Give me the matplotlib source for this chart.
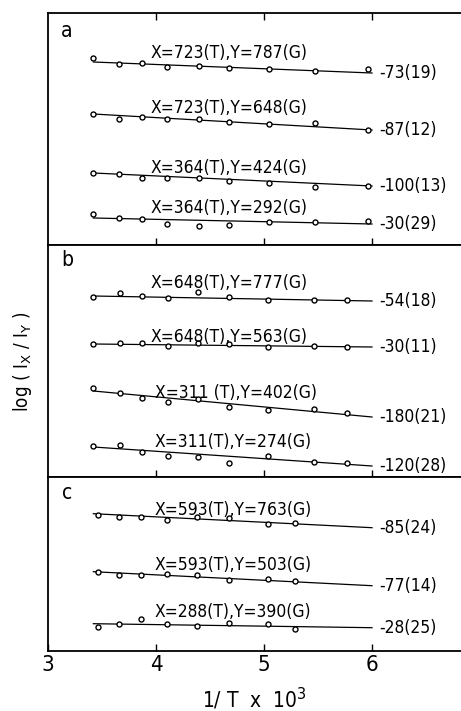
import numpy as np
import matplotlib
matplotlib.use("Agg")
import matplotlib.pyplot as plt

# ---------------- data (1/T x 10^3 ; log(Ix/Iy), arbitrary offsets per series) -------------
x_a = [3.42, 3.66, 3.87, 4.10, 4.40, 4.68, 5.05, 5.47, 5.96]
x_b = [3.42, 3.67, 3.87, 4.11, 4.39, 4.68, 5.04, 5.46, 5.77]
x_c = [3.46, 3.66, 3.86, 4.10, 4.38, 4.68, 5.04, 5.29]

a_titles = ["X=723(T),Y=787(G)", "X=723(T),Y=648(G)", "X=364(T),Y=424(G)", "X=364(T),Y=292(G)"]
a_slopes = ["-73(19)", "-87(12)", "-100(13)", "-30(29)"]
a_y = [
    [1.87, 1.81, 1.82, 1.78, 1.79, 1.77, 1.76, 1.74, 1.76],
    [1.31, 1.26, 1.28, 1.26, 1.26, 1.23, 1.21, 1.22, 1.15],
    [0.72, 0.71, 0.67, 0.67, 0.67, 0.64, 0.62, 0.58, 0.59],
    [0.31, 0.27, 0.26, 0.21, 0.19, 0.20, 0.23, 0.23, 0.24],
]
a_fit = [[1.83, 1.72], [1.31, 1.15], [0.72, 0.59], [0.27, 0.21]]
a_title_pos = [(3.95, 1.92), (3.95, 1.37), (3.95, 0.77), (3.95, 0.37)]

b_titles = ["X=648(T),Y=777(G)", "X=648(T),Y=563(G)", "X=311 (T),Y=402(G)", "X=311(T),Y=274(G)"]
b_slopes = ["-54(18)", "-30(11)", "-180(21)", "-120(28)"]
b_y = [
    [1.80, 1.84, 1.81, 1.79, 1.85, 1.80, 1.77, 1.77, 1.77],
    [1.33, 1.34, 1.34, 1.31, 1.34, 1.33, 1.30, 1.31, 1.30],
    [0.89, 0.84, 0.79, 0.75, 0.78, 0.70, 0.67, 0.68, 0.64],
    [0.31, 0.32, 0.25, 0.21, 0.20, 0.14, 0.21, 0.15, 0.14],
]
b_fit = [[1.81, 1.76], [1.33, 1.30], [0.86, 0.60], [0.30, 0.11]]
b_title_pos = [(3.95, 1.94), (3.95, 1.40), (3.99, 0.84), (3.99, 0.35)]

c_titles = ["X=593(T),Y=763(G)", "X=593(T),Y=503(G)", "X=288(T),Y=390(G)"]
c_slopes = ["-85(24)", "-77(14)", "-28(25)"]
c_y = [
    [1.36, 1.34, 1.34, 1.31, 1.34, 1.33, 1.27, 1.28],
    [0.79, 0.76, 0.76, 0.77, 0.76, 0.71, 0.72, 0.70],
    [0.24, 0.27, 0.32, 0.27, 0.25, 0.28, 0.27, 0.22],
]
c_fit = [[1.37, 1.23], [0.79, 0.65], [0.27, 0.23]]
c_title_pos = [(3.99, 1.41), (3.99, 0.86), (3.99, 0.39)]

fit_x = [3.42, 6.0]
xticks = [3, 4, 5, 6]

# ---------------- figure -------------
W, H = 461, 711
fig = plt.figure(figsize=(W / 100, H / 100), dpi=100)
FONT = dict(family="DejaVu Sans", stretch="condensed")

left = 48 / W
width = 1 - left
panels = [
    ("a", 13, 245, x_a, a_y, a_fit, a_titles, a_slopes, a_title_pos),
    ("b", 245, 477, x_b, b_y, b_fit, b_titles, b_slopes, b_title_pos),
    ("c", 477, 650.7, x_c, c_y, c_fit, c_titles, c_slopes, c_title_pos),
]
label_y = {"a": 0.922, "b": 0.935, "c": 0.908}

for i, (lab, top, bot, xs, ys, fits, titles, slopes, tpos) in enumerate(panels):
    ax = fig.add_axes([left, 1 - bot / H, width, (bot - top) / H])
    ax.set_xlim(3, 3 + (W - 48) / 108)
    ax.set_ylim(0, (bot - top) / 100)
    for yv, fv, t, s, tp in zip(ys, fits, titles, slopes, tpos):
        ax.plot(fit_x, fv, color="black", lw=0.9)
        ax.plot(xs, yv, "o", ms=3.6, mfc="white", mec="black", mew=1.0)
        ax.text(tp[0], tp[1], t, ha="left", va="center", fontsize=12.5, **FONT)
        ax.text(6.07, fv[1], s, ha="left", va="center", fontsize=12.5, **FONT)
    ax.text(0.046, label_y[lab], lab, transform=ax.transAxes, ha="center",
            va="center", fontsize=15, **FONT)
    ax.set_yticks([])
    ax.set_xticks([4, 5, 6])
    ax.tick_params(axis="x", direction="in", length=5, width=1,
                   top=(i == 0), bottom=True, labelbottom=False)
    ax.spines["right"].set_visible(False)
    for sp in ("left", "top", "bottom"):
        ax.spines[sp].set_linewidth(1.3)
    if i == 2:
        ax.set_xticks(xticks)
        ax.tick_params(axis="x", labelbottom=True, labelsize=16, pad=3)
        for tl in ax.get_xticklabels():
            tl.set_fontstretch("condensed")
        ax.set_xlabel(r"1/ T  x  10$^3$", fontsize=15, labelpad=8, **FONT)

fig.text(22 / W, 1 - 362 / H, r"log ( I$_{\rm X}$ / I$_{\rm Y}$ )", rotation=90,
         ha="center", va="center", fontsize=13.5, **FONT)

fig.savefig("out.png", dpi=100)
